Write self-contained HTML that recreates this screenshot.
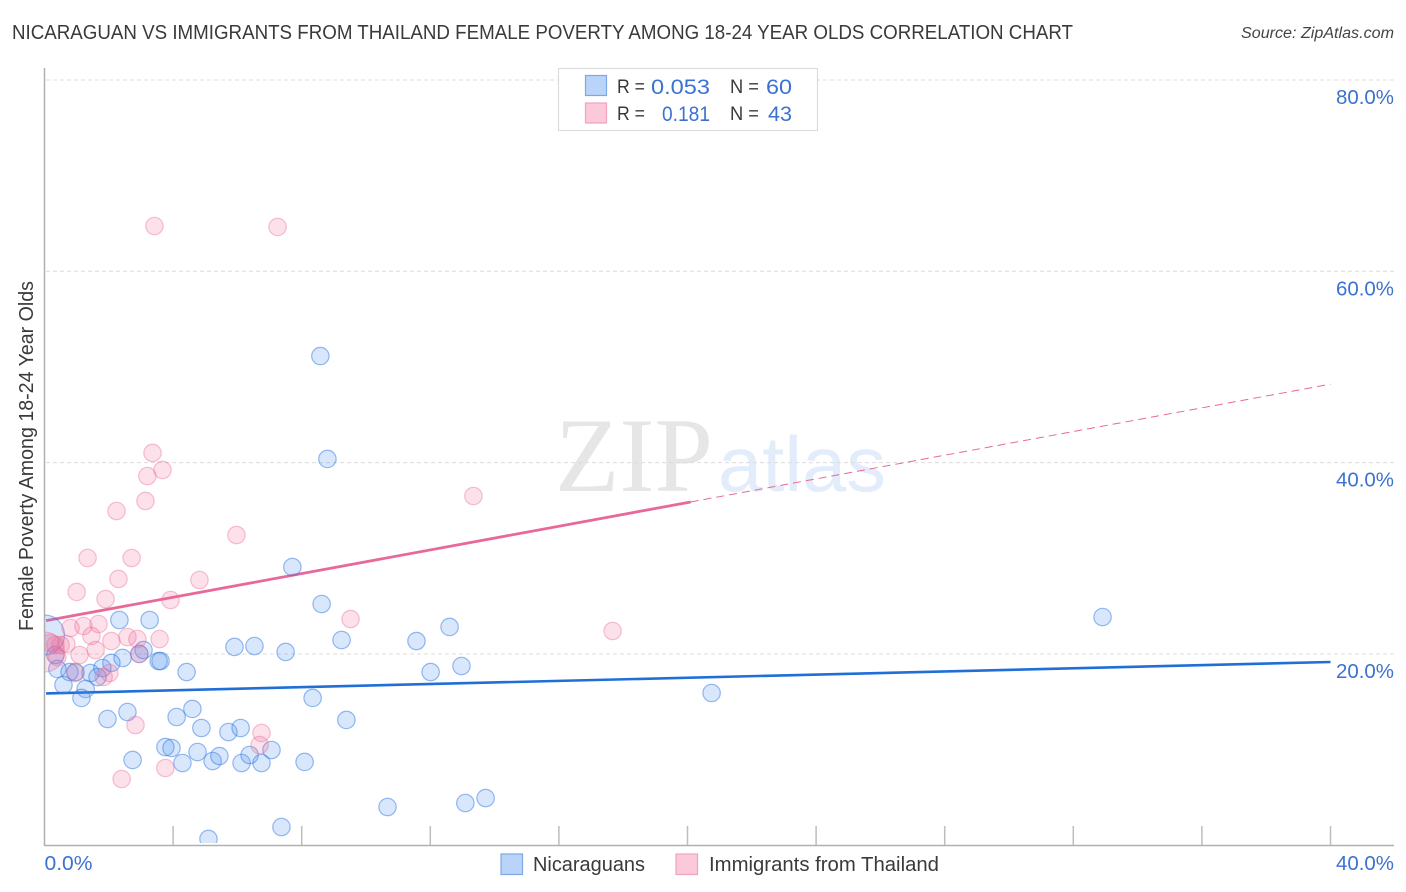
<!DOCTYPE html>
<html lang="en">
<head>
<meta charset="utf-8">
<title>Nicaraguan vs Immigrants from Thailand Female Poverty Correlation Chart</title>
<style>
html,body{margin:0;padding:0;background:#fff;width:1406px;height:892px;overflow:hidden}
svg{display:block}
text{font-family:"Liberation Sans",sans-serif}
</style>
</head>
<body>
<svg id="chart" xmlns="http://www.w3.org/2000/svg" width="1406" height="892" viewBox="0 0 1406 892">
  <defs>
    <clipPath id="plot-clip"><rect x="45" y="60" width="1349" height="783"/></clipPath>
  </defs>
  <text x="12" y="39" font-size="20" fill="#3a3a3a" textLength="1061" lengthAdjust="spacingAndGlyphs">NICARAGUAN VS IMMIGRANTS FROM THAILAND FEMALE POVERTY AMONG 18-24 YEAR OLDS CORRELATION CHART</text>
  <text x="1394" y="38" font-size="15.5" font-style="italic" fill="#444" text-anchor="end" textLength="153" lengthAdjust="spacingAndGlyphs">Source: ZipAtlas.com</text>

  <g>
    <text x="555" y="491" font-size="106" fill="#e6e6e6" textLength="158" lengthAdjust="spacingAndGlyphs" style="font-family:'Liberation Serif',serif">ZIP</text>
    <text x="718" y="491" font-size="78" fill="#e2ecfb" textLength="168" lengthAdjust="spacingAndGlyphs">atlas</text>
  </g>

  <g id="grid"></g>
  <g id="axes"></g>
  <g id="trends"></g>
  <g id="points" clip-path="url(#plot-clip)"></g>
  <g id="labels"></g>

  <text transform="translate(33,456) rotate(-90)" font-size="20" fill="#3a3a3a" text-anchor="middle" textLength="350" lengthAdjust="spacingAndGlyphs">Female Poverty Among 18-24 Year Olds</text>

  <g>
    <rect x="558.5" y="68.5" width="259" height="62" fill="#fff" fill-opacity="0.85" stroke="#dcdcdc" stroke-width="1.2"/>
    <rect x="585.5" y="75.5" width="21" height="20" fill="#b9d4f8" stroke="#7aa9e6" stroke-width="1.2"/>
    <rect x="585.5" y="103" width="21" height="20" fill="#fbc9da" stroke="#f1a3bd" stroke-width="1.2"/>
    <text x="617" y="93" font-size="19" fill="#3a3a3a" textLength="28" lengthAdjust="spacingAndGlyphs">R =</text>
    <text x="710" y="94" font-size="21.5" fill="#3b72d2" text-anchor="end" textLength="59" lengthAdjust="spacingAndGlyphs">0.053</text>
    <text x="730" y="93" font-size="19" fill="#3a3a3a" textLength="29" lengthAdjust="spacingAndGlyphs">N =</text>
    <text x="792" y="94" font-size="21.5" fill="#3b72d2" text-anchor="end" textLength="26" lengthAdjust="spacingAndGlyphs">60</text>
    <text x="617" y="120" font-size="19" fill="#3a3a3a" textLength="28" lengthAdjust="spacingAndGlyphs">R =</text>
    <text x="710" y="121" font-size="21.5" fill="#3b72d2" text-anchor="end" textLength="48" lengthAdjust="spacingAndGlyphs">0.181</text>
    <text x="730" y="120" font-size="19" fill="#3a3a3a" textLength="29" lengthAdjust="spacingAndGlyphs">N =</text>
    <text x="792" y="121" font-size="21.5" fill="#3b72d2" text-anchor="end" textLength="24" lengthAdjust="spacingAndGlyphs">43</text>
  </g>

  <g>
    <rect x="501" y="854" width="21.5" height="20.5" fill="#b9d4f8" stroke="#7aa9e6" stroke-width="1.2"/>
    <text x="533" y="871" font-size="20" fill="#3a3a3a" textLength="112" lengthAdjust="spacingAndGlyphs">Nicaraguans</text>
    <rect x="676" y="854" width="21.5" height="20.5" fill="#fbc9da" stroke="#f1a3bd" stroke-width="1.2"/>
    <text x="709" y="871" font-size="20" fill="#3a3a3a" textLength="230" lengthAdjust="spacingAndGlyphs">Immigrants from Thailand</text>
  </g>
</svg>
<script>
const yTickValues = [20, 40, 60, 80];
const yTickLabels = ["20.0%", "40.0%", "60.0%", "80.0%"];
const xTickValues = [4, 8, 12, 16, 20, 24, 28, 32, 36, 40];
const xEndValues = [0, 40];
const xEndLabels = ["0.0%", "40.0%"];

const nicaraguanX = [8.58,8.80,7.71,8.62,32.91,12.60,11.57,9.24,2.33,3.27,6.53,5.91,7.50,3.08,2.95,2.43,2.08,1.80,3.55,3.61,4.42,12.01,12.97,1.43,1.65,0.78,0.96,0.40,0.59,1.28,1.15,8.34,20.75,1.96,2.58,4.11,4.60,9.39,4.88,5.72,6.10,3.76,3.95,4.76,2.74,4.29,5.23,5.44,6.13,6.38,6.75,7.06,8.09,10.67,13.09,13.72,5.10,7.37,0,0.34];
const nicaraguanY = [51.14,40.38,29.09,25.22,23.86,22.82,21.35,21.46,23.55,23.55,20.83,20.73,20.21,20.41,20.00,19.58,19.06,18.53,19.26,19.26,18.11,18.11,18.74,18.01,17.59,18.11,18.11,18.43,16.76,16.34,15.40,15.40,15.92,13.20,13.93,13.41,14.25,13.10,12.26,11.84,12.26,10.27,10.17,9.75,8.92,8.60,8.81,9.33,8.60,9.44,8.60,9.96,8.71,4.00,4.42,4.94,0.66,1.91,21.98,19.89];
const nicaraguanLargeIndex = 58;

const thailandX = [3.42,7.25,3.36,3.20,3.67,3.14,2.24,13.34,5.97,1.34,2.71,2.30,4.82,1.00,1.90,3.92,9.52,17.67,0.81,1.21,1.68,1.46,2.08,2.58,2.89,3.58,2.95,1.59,1.09,0.68,0.50,0.34,0.19,0.40,0,0.96,1.84,2.02,2.83,6.75,6.69,3.76,2.40];
const thailandY = [64.73,64.63,41.01,38.60,39.23,35.99,34.94,36.51,32.43,30.03,30.03,27.84,27.73,26.48,25.74,25.64,23.65,22.40,22.71,22.92,23.13,21.88,21.35,21.77,21.56,21.56,20.00,20.41,19.89,21.04,20.94,20.94,21.15,19.68,20.20,18.01,17.59,18.01,12.57,11.74,10.48,8.08,6.93];
const thailandLargeIndex = 34;

const nicaraguanTrend = [15.87, 19.16];
const thailandTrend = [23.45, 48.2];
const thailandSolidEnd = 20.1;

const NS = "http://www.w3.org/2000/svg";
const xScale = v => 44.5 + v * 32.15;
const yScale = v => 845.3 - v * 9.567;
const mk = (parent, tag, attrs) => {
  const el = document.createElementNS(NS, tag);
  for (const k in attrs) el.setAttribute(k, attrs[k]);
  parent.appendChild(el);
  return el;
};
const grid = document.getElementById("grid");
const axes = document.getElementById("axes");
const trends = document.getElementById("trends");
const points = document.getElementById("points");
const labels = document.getElementById("labels");

yTickValues.forEach((v, i) => {
  const line = mk(grid, "line", {x1: 46, x2: 1394, y1: yScale(v), y2: yScale(v), stroke: "#dcdcdc", "stroke-width": 1, "stroke-dasharray": "4 3"});
  
  
  const t = mk(labels, "text", {x: 1394, y: yScale(v) + 24, "font-size": 20, fill: "#3b72d2", "text-anchor": "end", textLength: 58, lengthAdjust: "spacingAndGlyphs"});
  t.textContent = yTickLabels[i];
  
  
});

const yAxis = mk(axes, "line", {x1: 44.5, x2: 44.5, y1: 68, y2: 846, stroke: "#b0b0b0", "stroke-width": 1.5});


const xAxis = mk(axes, "line", {x1: 44, x2: 1394, y1: 845.5, y2: 845.5, stroke: "#b0b0b0", "stroke-width": 1.5});


xTickValues.forEach(v => {
  const tick = mk(axes, "line", {x1: xScale(v), x2: xScale(v), y1: 826, y2: 845, stroke: "#bdbdbd", "stroke-width": 1.5});
  
  
});
xEndValues.forEach((v, i) => {
  const first = i === 0;
  const t = mk(labels, "text", {x: first ? 44.5 : 1394, y: 870, "font-size": 20, fill: "#3b72d2", "text-anchor": first ? "start" : "end", textLength: first ? 48 : 58, lengthAdjust: "spacingAndGlyphs"});
  t.textContent = xEndLabels[i];
  
  
});

function drawPoints(xs, ys, largeIndex, fill, stroke, name) {
  xs.forEach((x, i) => {
    const c = mk(points, "circle", {cx: xScale(x), cy: yScale(ys[i]), r: i === largeIndex ? 20 : 8.7, fill: fill, stroke: stroke, "stroke-width": 1.2});
    
    
  });
}
drawPoints(nicaraguanX, nicaraguanY, nicaraguanLargeIndex, "rgba(70,140,240,0.21)", "rgba(50,120,225,0.5)", "nicaraguan-point");
drawPoints(thailandX, thailandY, thailandLargeIndex, "rgba(240,100,150,0.2)", "rgba(235,110,150,0.42)", "thailand-point");

const trendAt = (t, x) => t[0] + (t[1] - t[0]) * x / 40;
const blueLine = mk(trends, "line", {x1: xScale(0.05), y1: yScale(trendAt(nicaraguanTrend, 0.05)), x2: xScale(40), y2: yScale(trendAt(nicaraguanTrend, 40)), stroke: "#1f6fd6", "stroke-width": 2.6});


const pinkSolid = mk(trends, "line", {x1: xScale(0.05), y1: yScale(trendAt(thailandTrend, 0.05)), x2: xScale(thailandSolidEnd), y2: yScale(trendAt(thailandTrend, thailandSolidEnd)), stroke: "#e8689a", "stroke-width": 2.8});


const pinkDash = mk(trends, "line", {x1: xScale(thailandSolidEnd), y1: yScale(trendAt(thailandTrend, thailandSolidEnd)), x2: xScale(40), y2: yScale(trendAt(thailandTrend, 40)), stroke: "#e8689a", "stroke-width": 1, "stroke-dasharray": "8 5"});


</script>
</body>
</html>
